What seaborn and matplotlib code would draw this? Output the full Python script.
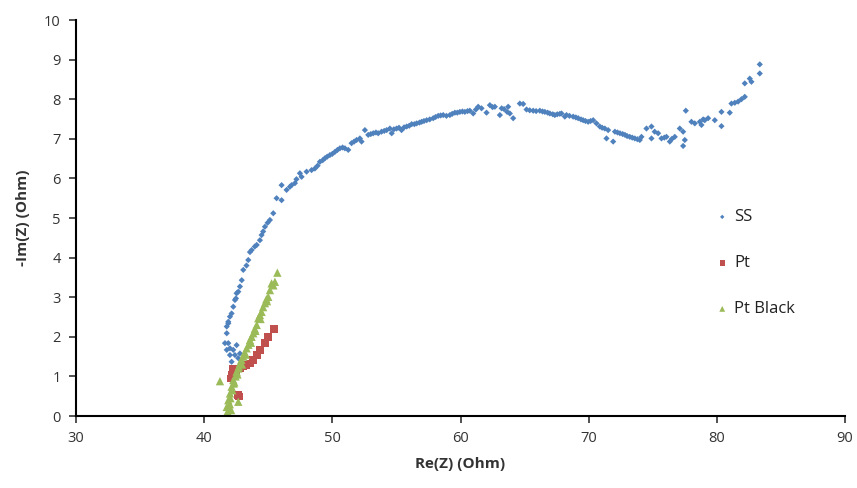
import pandas as pd
import seaborn as sns
import matplotlib.pyplot as plt

# Values (Nyquist plot)
SS_RE = [
    42.14, 42.01, 42.27, 42.40, 42.53, 42.79, 42.66, 41.76, 41.62, 41.76,
    41.88, 42.01, 41.88, 41.76, 41.88, 42.01, 42.14, 42.27, 42.40, 42.48,
    42.53, 42.66, 42.79, 42.93, 43.05, 43.30, 43.44, 43.57, 43.70, 43.95,
    44.10, 44.35, 44.48, 44.60, 44.74, 44.95, 45.13, 45.39, 45.65, 46.04,
    46.04, 46.43, 46.69, 46.82, 47.08, 47.20, 47.47, 47.60, 47.99, 48.38,
    48.64, 48.85, 49.03, 49.25, 49.42, 49.60, 49.81, 50.00, 50.20, 50.40,
    50.59, 50.80, 50.98, 51.24, 51.50, 51.70, 51.89, 52.15, 52.28, 52.54,
    52.80, 53.00, 53.19, 53.40, 53.58, 53.84, 54.05, 54.24, 54.49, 54.63,
    54.80, 55.01, 55.20, 55.40, 55.60, 55.80, 56.00, 56.19, 56.40, 56.58,
    56.80, 56.97, 57.15, 57.36, 57.60, 57.87, 58.05, 58.26, 58.45, 58.65,
    58.90, 59.17, 59.35, 59.56, 59.75, 59.95, 60.15, 60.34, 60.55, 60.73,
    60.99, 61.20, 61.38, 61.64, 62.03, 62.29, 62.50, 62.68, 63.07, 63.21,
    63.40, 63.64, 63.72, 63.85, 64.11, 64.63, 64.89, 65.15, 65.40, 65.67,
    65.90, 66.19, 66.40, 66.58, 66.80, 66.97, 67.20, 67.36, 67.55, 67.75,
    67.88, 68.14, 68.27, 68.50, 68.79, 69.00, 69.18, 69.40, 69.57, 69.75,
    69.96, 70.15, 70.35, 70.61, 70.87, 71.05, 71.26, 71.39, 71.52, 71.91,
    72.05, 72.25, 72.44, 72.65, 72.83, 73.00, 73.21, 73.40, 73.60, 73.80,
    73.99, 74.12, 74.51, 74.90, 74.90, 75.15, 75.42, 75.68, 75.90, 76.07,
    76.33, 76.50, 76.72, 77.11, 77.37, 77.50, 77.37, 77.58, 78.02, 78.28,
    78.67, 78.80, 78.93, 79.06, 79.32, 79.84, 80.36, 80.36, 81.01, 81.14,
    81.40, 81.66, 81.92, 82.18, 82.18, 82.57, 82.70, 83.35, 83.35,
]
SS_IM = [
    1.37, 1.54, 1.67, 1.54, 1.79, 1.58, 1.46, 1.67, 1.84, 2.09,
    1.84, 1.71, 2.34, 2.26, 2.38, 2.51, 2.59, 2.76, 2.93, 2.97,
    3.10, 3.14, 3.27, 3.43, 3.69, 3.80, 3.94, 4.14, 4.19, 4.28,
    4.32, 4.44, 4.57, 4.66, 4.78, 4.88, 4.95, 5.12, 5.50, 5.45,
    5.83, 5.71, 5.79, 5.83, 5.88, 5.98, 6.13, 6.04, 6.17, 6.21,
    6.25, 6.32, 6.42, 6.46, 6.51, 6.55, 6.59, 6.62, 6.67, 6.72,
    6.76, 6.78, 6.76, 6.72, 6.89, 6.93, 6.97, 7.01, 6.93, 7.22,
    7.10, 7.12, 7.14, 7.16, 7.14, 7.18, 7.20, 7.22, 7.26, 7.14,
    7.24, 7.26, 7.28, 7.22, 7.29, 7.31, 7.33, 7.37, 7.37, 7.39,
    7.41, 7.43, 7.45, 7.47, 7.49, 7.52, 7.55, 7.58, 7.59, 7.60,
    7.58, 7.60, 7.63, 7.66, 7.66, 7.68, 7.69, 7.68, 7.70, 7.71,
    7.64, 7.74, 7.81, 7.77, 7.66, 7.85, 7.80, 7.81, 7.60, 7.77,
    7.75, 7.68, 7.81, 7.64, 7.52, 7.89, 7.88, 7.74, 7.72, 7.71,
    7.70, 7.71, 7.69, 7.68, 7.66, 7.64, 7.62, 7.60, 7.62, 7.63,
    7.64, 7.56, 7.60, 7.58, 7.56, 7.54, 7.52, 7.49, 7.47, 7.45,
    7.43, 7.45, 7.47, 7.39, 7.31, 7.28, 7.26, 7.01, 7.22, 6.93,
    7.18, 7.16, 7.14, 7.12, 7.10, 7.07, 7.05, 7.03, 7.01, 6.99,
    6.97, 7.05, 7.26, 7.31, 7.01, 7.18, 7.14, 7.01, 7.03, 7.05,
    6.93, 7.00, 7.05, 7.26, 7.18, 6.97, 6.82, 7.71, 7.43, 7.39,
    7.43, 7.35, 7.49, 7.47, 7.52, 7.47, 7.32, 7.68, 7.66, 7.89,
    7.91, 7.94, 8.00, 8.06, 8.40, 8.52, 8.44, 8.65, 8.88,
]

PT_RE = [42.66, 42.74, 42.07, 42.14, 42.27, 42.27, 42.53, 42.79, 43.05, 43.31,
         43.57, 43.83, 44.10, 44.35, 44.74, 45.00, 45.44]
PT_IM = [0.53, 0.49, 0.95, 1.04, 1.12, 1.20, 1.16, 1.20, 1.25, 1.29,
         1.33, 1.41, 1.54, 1.67, 1.84, 1.99, 2.19]

PTB_RE = [41.76, 41.85, 41.76, 41.95, 41.88, 42.05, 42.01, 42.20, 42.14, 42.30,
          42.27, 42.45, 42.53, 42.66, 42.70, 42.79, 42.90, 43.05, 43.15, 43.31,
          43.45, 43.57, 43.70, 43.83, 43.95, 44.10, 44.22, 44.35, 44.48, 44.60,
          44.74, 44.85, 45.00, 45.13, 45.26, 45.40, 45.52, 45.71, 41.23, 42.66,
          42.10, 42.00, 42.35, 42.60, 42.95, 43.25, 43.65, 44.00, 44.40, 44.90]
PTB_IM = [0.07, 0.10, 0.23, 0.25, 0.40, 0.45, 0.57, 0.65, 0.74, 0.82,
          0.91, 1.00, 1.12, 1.20, 1.25, 1.33, 1.42, 1.50, 1.60, 1.71,
          1.80, 1.92, 2.00, 2.09, 2.20, 2.30, 2.47, 2.55, 2.63, 2.75,
          2.85, 2.95, 3.01, 3.18, 3.35, 3.30, 3.39, 3.62, 0.88, 0.36,
          0.15, 0.30, 0.85, 1.05, 1.30, 1.55, 1.85, 2.15, 2.45, 2.90]

COLORS = {"SS": "#4F81BD", "Pt": "#C0504D", "Pt Black": "#9BBB59"}

ss = pd.DataFrame({"re": SS_RE, "im": SS_IM})
pt = pd.DataFrame({"re": PT_RE, "im": PT_IM})
ptb = pd.DataFrame({"re": PTB_RE, "im": PTB_IM})

sns.set_style("ticks")
plt.rcParams["font.family"] = ["Open Sans", "DejaVu Sans"]

fig = plt.figure(figsize=(8.57, 4.88), dpi=100)
ax = fig.add_axes([0.0887, 0.1475, 0.8973, 0.8115])

sns.scatterplot(data=ss, x="re", y="im", marker="D", s=10, color=COLORS["SS"],
                edgecolor="none", label="SS", ax=ax)
sns.scatterplot(data=pt, x="re", y="im", marker="s", s=30, color=COLORS["Pt"],
                edgecolor="none", label="Pt", ax=ax)
sns.scatterplot(data=ptb, x="re", y="im", marker="^", s=36, color=COLORS["Pt Black"],
                edgecolor="none", label="Pt Black", ax=ax)

ax.set_xlim(30, 90)
ax.set_ylim(0, 10)
ax.set_xticks(range(30, 91, 10))
ax.set_yticks(range(0, 11, 1))
ax.tick_params(axis="both", direction="out", length=5, width=1.2,
               labelsize=10.5, colors="#333333", pad=6)
for side in ["top", "right"]:
    ax.spines[side].set_visible(False)
for side in ["left", "bottom"]:
    ax.spines[side].set_linewidth(1.5)
    ax.spines[side].set_color("#000000")

ax.set_xlabel("Re(Z) (Ohm)", fontsize=11, fontweight="bold", color="#333333", labelpad=8)
ax.set_ylabel("-Im(Z) (Ohm)", fontsize=11, fontweight="bold", color="#333333", labelpad=10)

leg = ax.legend(loc="upper left", bbox_to_anchor=(0.81, 0.56), frameon=False,
                fontsize=12, labelspacing=1.8, handletextpad=0.2,
                handlelength=1.0, markerscale=0.7)
for text in leg.get_texts():
    text.set_color("#222222")

fig.savefig("out.png", dpi=100)
